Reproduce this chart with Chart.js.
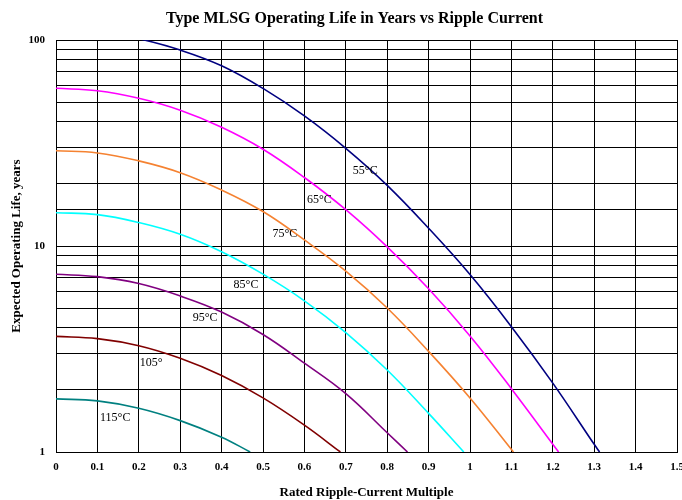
<!DOCTYPE html>
<html>
<head>
<meta charset="utf-8">
<title>Type MLSG Operating Life</title>
<script src="https://cdn.jsdelivr.net/npm/chart.js"></script>
<style>
  body { margin: 0; background: #fff; }
  canvas { display: block; }
</style>
</head>
<body>
<canvas id="lifeChart" width="682" height="500"></canvas>
<script>
// ripple multiple positions where the curves were read
const ripple = [0, 0.1, 0.2, 0.3, 0.4, 0.5, 0.6, 0.7, 0.8, 0.9, 1.0, 1.1, 1.2, 1.3];

// expected life in years, one array per temperature
const life55 = [114, 111, 101.5, 89.4, 75.0, 58.2, 42.8, 29.8, 19.7, 12.2, 7.27, 4.06, 2.16, 1.09];
const life65 = [58.3, 56.7, 52.1, 45.6, 37.7, 29.5, 21.5, 15.0, 9.9, 6.2, 3.66, 2.03];
const life75 = [29.0, 28.3, 25.9, 22.7, 18.7, 14.7, 10.7, 7.55, 5.0, 3.08, 1.83];
const life85 = [14.5, 14.2, 13.0, 11.4, 9.38, 7.3, 5.42, 3.8, 2.5, 1.54];
const life95 = [7.29, 7.10, 6.57, 5.72, 4.78, 3.72, 2.70, 1.92, 1.24];
const life105 = [3.64, 3.55, 3.28, 2.85, 2.35, 1.83, 1.35];
const life115 = [1.81, 1.77, 1.63, 1.42, 1.18];

// ripple multiple where each curve reaches 1 year
const endRipple = [1.313, 1.214, 1.105, 0.985, 0.849, 0.687, 0.469];

const tempNames = ["55°C", "65°C", "75°C", "85°C", "95°C", "105°", "115°C"];
const tempColors = ["#000080", "#ff00ff", "#f58231", "#00ffff", "#800080", "#800000", "#008080"];

// where the temperature labels sit (data coordinates)
const labelRipple = [0.747, 0.636, 0.553, 0.459, 0.360, 0.230, 0.143];
const labelLife = [23.1, 16.7, 11.4, 6.47, 4.47, 2.70, 1.46];

const xTickLabels = ["0", "0.1", "0.2", "0.3", "0.4", "0.5", "0.6", "0.7", "0.8", "0.9", "1", "1.1", "1.2", "1.3", "1.4", "1.5"];
const yTickLabels = ["1", "10", "100"];

const serif = "'Liberation Serif', 'Times New Roman', serif";

function series(values, end) {
  const pts = values.map((v, i) => ({ x: ripple[i], y: v }));
  pts.push({ x: end, y: 1 });
  return pts;
}

const allLife = [life55, life65, life75, life85, life95, life105, life115];
const datasets = allLife.map((vals, i) => ({
  label: tempNames[i],
  data: series(vals, endRipple[i]),
  borderColor: tempColors[i],
  borderWidth: 1.6,
  pointRadius: 0,
  fill: false,
  tension: 0.4,
}));

const titlePlugin = {
  id: "topTitle",
  afterDraw(chart) {
    const ctx = chart.ctx;
    ctx.save();
    ctx.font = "bold 16px " + serif;
    ctx.fillStyle = "#000";
    ctx.textAlign = "center";
    ctx.textBaseline = "alphabetic";
    ctx.fillText("Type MLSG Operating Life in Years vs Ripple Current", 354.5, 23);
    ctx.restore();
  },
};

const curveLabels = {
  id: "curveLabels",
  afterDatasetsDraw(chart) {
    const ctx = chart.ctx;
    const xs = chart.scales.x;
    const ys = chart.scales.y;
    ctx.save();
    ctx.font = "12px " + serif;
    ctx.fillStyle = "#000";
    ctx.textAlign = "center";
    ctx.textBaseline = "middle";
    tempNames.forEach((t, i) => {
      ctx.fillText(t, xs.getPixelForValue(labelRipple[i]), ys.getPixelForValue(labelLife[i]));
    });
    ctx.restore();
  },
};

const ctx = document.getElementById("lifeChart").getContext("2d");
const lifeChart = new Chart(ctx, {
  type: "line",
  data: { datasets: datasets },
  options: {
    responsive: false,
    animation: false,
    devicePixelRatio: 1,
    layout: { padding: { top: 40, right: 5, left: 0, bottom: 0 } },
    plugins: {
      legend: { display: false },
      tooltip: { enabled: false },
    },
    scales: {
      x: {
        type: "linear",
        min: 0,
        max: 1.5,
        afterFit(scale) {
          scale.height = 48;
          scale.paddingLeft = 0;
          scale.paddingRight = 0;
        },
        afterBuildTicks(scale) {
          scale.ticks = xTickLabels.map((t) => ({ value: parseFloat(t) }));
        },
        ticks: {
          autoSkip: false,
          maxRotation: 0,
          padding: 9,
          color: "#000",
          font: { family: serif, size: 11, weight: "bold" },
          callback: (v, i) => xTickLabels[i],
        },
        grid: { color: "#000", lineWidth: 1, drawTicks: false },
        border: { color: "#000", width: 1 },
        title: {
          display: true,
          text: "Rated Ripple-Current Multiple",
          color: "#000",
          font: { family: serif, size: 13, weight: "bold" },
          padding: 0,
        },
      },
      y: {
        type: "logarithmic",
        min: 1,
        max: 100,
        afterFit(scale) {
          scale.width = 56;
        },
        ticks: {
          autoSkip: false,
          padding: 11,
          color: "#000",
          font: { family: serif, size: 11, weight: "bold" },
          callback: (v) => (yTickLabels.includes(String(v)) ? String(v) : ""),
        },
        grid: { color: "#000", lineWidth: 1, drawTicks: false },
        border: { color: "#000", width: 1 },
        title: {
          display: true,
          text: "Expected Operating Life, years",
          color: "#000",
          font: { family: serif, size: 13, weight: "bold" },
          padding: 9,
        },
      },
    },
  },
  plugins: [titlePlugin, curveLabels],
});
</script>
</body>
</html>
